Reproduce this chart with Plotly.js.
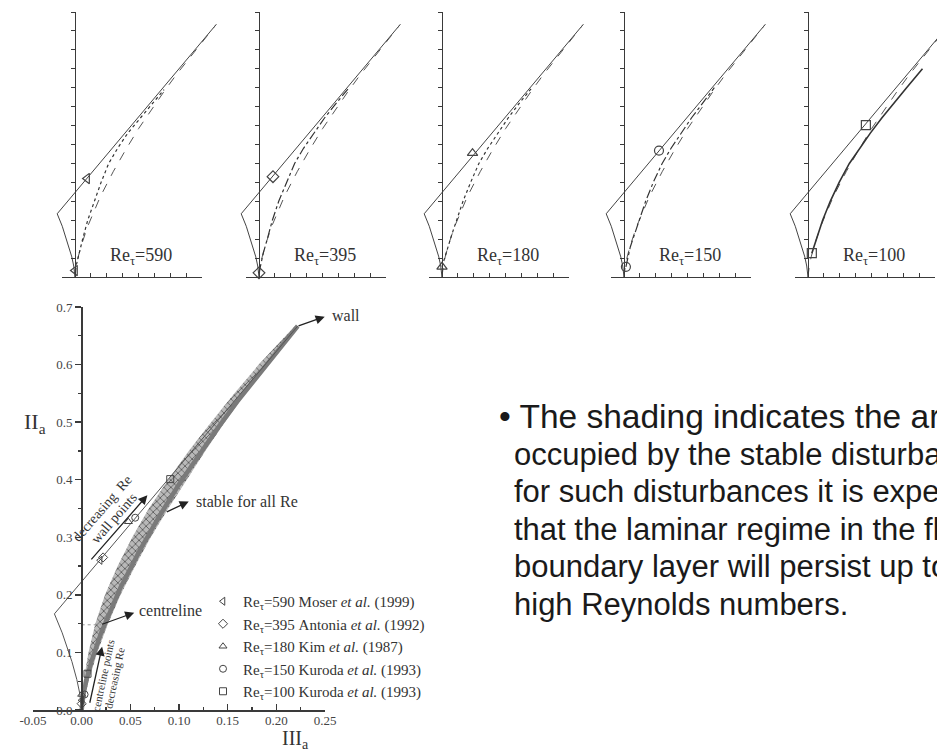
<!DOCTYPE html>
<html><head><meta charset="utf-8">
<script src="https://cdn.plot.ly/plotly-3.0.1.min.js"></script>
<style>html,body{margin:0;padding:0;background:#fff;overflow:hidden;} #chart{width:937px;height:754px;}</style>
</head><body><div id="chart"></div>
<script>
// ---------------- data (IIIa, IIa) ----------------
const reLabels  = ['590', '395', '180', '150', '100'];
const reSources = ['Moser <i>et al.</i> (1999)', 'Antonia <i>et al.</i> (1992)', 'Kim <i>et al.</i> (1987)',
                   'Kuroda <i>et al.</i> (1993)', 'Kuroda <i>et al.</i> (1993)'];
const reSymbols = ['triangle-left-open', 'diamond-open', 'triangle-up-open', 'circle-open', 'square-open'];
const reDash    = ['dot', 'dashdot', 'dot', 'dashdot', 'solid'];

// wall points (on the two-component line) and centreline points
const wallPointX   = [0.019, 0.022, 0.048, 0.055, 0.091];
const wallPointY   = [0.260, 0.265, 0.327, 0.334, 0.401];
const centrePointX = [0.000, 0.000, 0.000, 0.003, 0.006];
const centrePointY = [0.017, 0.011, 0.027, 0.027, 0.063];

// two-component line + left (axisymmetric contraction) boundary
const boundaryLeftX = [0.222, 0.000, -0.028, -0.020, -0.010, -0.005, -0.002, 0.000];
const boundaryLeftY = [0.667, 0.222, 0.167, 0.134, 0.084, 0.053, 0.029, 0.000];
// right (axisymmetric expansion) boundary
const boundaryRightX = [0.000, 0.002, 0.005, 0.010, 0.020, 0.040, 0.060, 0.080, 0.100, 0.120, 0.140, 0.160, 0.180, 0.200, 0.222];
const boundaryRightY = [0.000, 0.029, 0.053, 0.084, 0.134, 0.213, 0.278, 0.337, 0.392, 0.442, 0.490, 0.536, 0.579, 0.621, 0.667];

// DNS trajectories (centreline -> near wall)
const dnsX590 = [0.000, 0.003, 0.007, 0.012, 0.020, 0.030, 0.041, 0.053, 0.067, 0.083, 0.100, 0.120, 0.140];
const dnsY590 = [0.017, 0.040, 0.070, 0.100, 0.150, 0.200, 0.250, 0.300, 0.340, 0.380, 0.415, 0.455, 0.495];
const dnsX395 = [0.000, 0.003, 0.007, 0.013, 0.021, 0.031, 0.043, 0.056, 0.070, 0.086, 0.103, 0.122, 0.140];
const dnsY395 = [0.011, 0.035, 0.065, 0.100, 0.150, 0.200, 0.250, 0.300, 0.340, 0.380, 0.420, 0.460, 0.497];
const dnsX180 = [0.000, 0.004, 0.009, 0.015, 0.023, 0.033, 0.045, 0.058, 0.072, 0.088, 0.104, 0.122, 0.140];
const dnsY180 = [0.027, 0.050, 0.080, 0.110, 0.150, 0.200, 0.250, 0.300, 0.340, 0.380, 0.420, 0.460, 0.497];
const dnsX150 = [0.003, 0.006, 0.010, 0.016, 0.024, 0.034, 0.046, 0.060, 0.074, 0.090, 0.106, 0.124, 0.142];
const dnsY150 = [0.027, 0.050, 0.080, 0.110, 0.150, 0.200, 0.250, 0.300, 0.340, 0.380, 0.420, 0.460, 0.500];
const dnsX100 = [0.006, 0.010, 0.016, 0.023, 0.035, 0.049, 0.065, 0.081, 0.098, 0.116, 0.135, 0.155, 0.180];
const dnsY100 = [0.063, 0.085, 0.115, 0.150, 0.200, 0.250, 0.300, 0.340, 0.380, 0.420, 0.460, 0.500, 0.550];
const dnsX = [dnsX590, dnsX395, dnsX180, dnsX150, dnsX100];
const dnsY = [dnsY590, dnsY395, dnsY180, dnsY150, dnsY100];

// shaded band of stable disturbances (main plot)
const bandY      = [0.020, 0.050, 0.100, 0.150, 0.200, 0.250, 0.300, 0.350, 0.400, 0.450, 0.500, 0.550, 0.600, 0.667];
const bandRightX = [0.003, 0.007, 0.016, 0.027, 0.040, 0.055, 0.071, 0.089, 0.108, 0.127, 0.147, 0.168, 0.190, 0.222];
const bandLeftX  = [0.000, 0.002, 0.007, 0.014, 0.024, 0.037, 0.052, 0.069, 0.089, 0.110, 0.133, 0.157, 0.182, 0.219];

// centreline level (dotted)
const centreLevelX = [0.000, 0.020];
const centreLevelY = [0.148, 0.148];

// tick labels
const mainXTicks    = [-0.05, 0, 0.05, 0.10, 0.15, 0.20, 0.25];
const mainXTickText = ['-0.05', '0.00', '0.05', '0.10', '0.15', '0.20', '0.25'];
const mainXMinor    = [-0.025, 0.025, 0.075, 0.125, 0.175, 0.225];
const mainYTicks    = [0, 0.1, 0.2, 0.3, 0.4, 0.5, 0.6, 0.7];
const mainYTickText = ['0.0', '0.1', '0.2', '0.3', '0.4', '0.5', '0.6', '0.7'];
const mainYMinor    = [0.05, 0.15, 0.25, 0.35, 0.45, 0.55, 0.65];

const bulletLines = [
  '\u2022 The shading indicates the area',
  'occupied by the stable disturbances;',
  'for such disturbances it is expected',
  'that the laminar regime in the flat plate',
  'boundary layer will persist up to very',
  'high Reynolds numbers.'
];

// ---------------- geometry / styling ----------------
const W = 937, H = 754;
const px = p => p / W;
const py = p => 1 - p / H;
const serif = '"Liberation Serif", "Times New Roman", serif';
const sans  = '"Liberation Sans", Arial, sans-serif';
const ink = '#3a3a3a';

// main plot pixel mapping (for paper-positioned labels)
const M = {x0: 81, sx: 973, y0: 710, sy: 575};
const mPx = u => M.x0 + u * M.sx;
const mPy = v => M.y0 - v * M.sy;

// top panels
const panelZero = [75, 259, 442, 624, 808];
const pScale = 636, pTop = 12, pBottom = 277;

const traces = [];
// ---- main plot ----
traces.push({type: 'scatter', mode: 'lines', xaxis: 'x', yaxis: 'y',
  x: bandRightX.concat(bandLeftX.slice().reverse()),
  y: bandY.concat(bandY.slice().reverse()),
  fill: 'toself', fillcolor: '#a8a8a8',
  fillpattern: {shape: 'x', fgcolor: '#5e5e5e', bgcolor: '#b9b9b9', size: 5, solidity: 0.32},
  line: {width: 0}, showlegend: false, hoverinfo: 'skip'});
traces.push({type: 'scatter', mode: 'lines', xaxis: 'x', yaxis: 'y', x: boundaryRightX, y: boundaryRightY,
  line: {color: '#7a7a7a', width: 4.5}, showlegend: false, hoverinfo: 'skip'});
traces.push({type: 'scatter', mode: 'lines', xaxis: 'x', yaxis: 'y', x: boundaryLeftX, y: boundaryLeftY,
  line: {color: '#555', width: 1}, showlegend: false, hoverinfo: 'skip'});
traces.push({type: 'scatter', mode: 'lines', xaxis: 'x', yaxis: 'y', x: centreLevelX, y: centreLevelY,
  line: {color: '#9a9a9a', width: 1, dash: 'dot'}, showlegend: false, hoverinfo: 'skip'});
for (let i = 0; i < reLabels.length; i++) {
  traces.push({type: 'scatter', mode: 'markers', xaxis: 'x', yaxis: 'y',
    x: [wallPointX[i], centrePointX[i]], y: [wallPointY[i], centrePointY[i]],
    name: 'Re<sub>\u03c4</sub>=' + reLabels[i] + ' ' + reSources[i],
    marker: {symbol: reSymbols[i], size: 7, color: '#444', line: {width: 1, color: '#444'}},
    cliponaxis: false, showlegend: true, hoverinfo: 'skip'});
}
// ---- top panels ----
for (let i = 0; i < reLabels.length; i++) {
  const xa = 'x' + (i + 2), ya = 'y' + (i + 2), xd = 'x' + (i + 7);
  traces.push({type: 'scatter', mode: 'lines', xaxis: xa, yaxis: ya, x: boundaryLeftX, y: boundaryLeftY,
    line: {color: '#444', width: 1}, showlegend: false, hoverinfo: 'skip'});
  traces.push({type: 'scatter', mode: 'lines', xaxis: xa, yaxis: ya, x: boundaryRightX, y: boundaryRightY,
    line: {color: '#555', width: 1, dash: 'dash'}, showlegend: false, hoverinfo: 'skip'});
  traces.push({type: 'scatter', mode: 'lines', xaxis: xa, yaxis: ya, x: dnsX[i], y: dnsY[i],
    line: {color: '#333', width: i === 4 ? 1.6 : 1.2, dash: reDash[i]}, showlegend: false, hoverinfo: 'skip'});
  // markers live on the visible (shorter) horizontal axis, which has the same scale and zero
  traces.push({type: 'scatter', mode: 'markers', xaxis: xd, yaxis: ya,
    x: [wallPointX[i], centrePointX[i]], y: [wallPointY[i], centrePointY[i]],
    marker: {symbol: reSymbols[i], size: 9, color: '#444', line: {width: 1.2, color: '#444'}},
    cliponaxis: false, showlegend: false, hoverinfo: 'skip'});
}

const layout = {
  width: W, height: H, margin: {l: 0, r: 0, t: 0, b: 0},
  paper_bgcolor: '#ffffff', plot_bgcolor: 'rgba(0,0,0,0)',
  font: {family: serif, color: ink},
  showlegend: true,
  legend: {x: px(203), y: py(585), xanchor: 'left', yanchor: 'top', bgcolor: 'rgba(0,0,0,0)',
    font: {family: serif, size: 15, color: '#333'}, itemwidth: 30, traceorder: 'normal'},
  xaxis: {domain: [px(33), px(325)], range: [-0.05, 0.25], anchor: 'y',
    showline: true, linecolor: ink, linewidth: 1.6, showgrid: false, zeroline: false,
    ticks: 'inside', ticklen: 6, tickwidth: 1.3, tickcolor: ink, ticklabelstandoff: -2,
    tickmode: 'array', tickvals: mainXTicks, ticktext: mainXTickText,
    minor: {tickmode: 'array', tickvals: mainXMinor, ticks: 'inside', ticklen: 3, tickcolor: ink},
    tickfont: {family: serif, size: 13, color: '#444'}},
  yaxis: {domain: [py(710), py(307)], range: [0, 0.7], anchor: 'free', position: px(81),
    showline: true, linecolor: ink, linewidth: 1.6, showgrid: false, zeroline: false,
    ticks: 'outside', ticklen: 6, tickwidth: 1.3, tickcolor: ink,
    tickmode: 'array', tickvals: mainYTicks, ticktext: mainYTickText,
    minor: {tickmode: 'array', tickvals: mainYMinor, ticks: 'outside', ticklen: 3, tickcolor: ink},
    tickfont: {family: serif, size: 13, color: '#444'}},
  annotations: [],
  hovermode: false
};

for (let i = 0; i < 5; i++) {
  const z = panelZero[i];
  const left = z - 0.035 * pScale;
  const right = Math.min(z + 0.235 * pScale, W);
  const xRight = (right - z) / pScale;
  layout['xaxis' + (i + 2)] = {domain: [px(left), px(right)], range: [-0.035, xRight], anchor: 'y' + (i + 2), visible: false};
  layout['yaxis' + (i + 2)] = {domain: [py(pBottom), py(pTop)], range: [0, 0.7], anchor: 'free', position: px(z),
    showline: true, linecolor: ink, linewidth: 1.4, showgrid: false, zeroline: false,
    ticks: 'outside', ticklen: 4, tickcolor: ink, tick0: 0, dtick: 0.05, showticklabels: false};
  layout['xaxis' + (i + 7)] = {domain: [px(z - 0.02 * pScale), px(z + 0.2 * pScale)], range: [-0.02, 0.2],
    anchor: 'y' + (i + 2), showline: true, linecolor: ink, linewidth: 1.4, showgrid: false, zeroline: false,
    ticks: 'inside', ticklen: 4, tickcolor: ink, tick0: 0, dtick: 0.025, showticklabels: false};
  layout.annotations.push({xref: 'x' + (i + 2), yref: 'y' + (i + 2), x: 0.104, y: 0.055,
    text: 'Re<sub>\u03c4</sub>=' + reLabels[i], showarrow: false,
    font: {family: serif, size: 18, color: '#333'}});
}

function arrow(hx, hy, tx, ty) {
  return {xref: 'x', yref: 'y', x: hx, y: hy, axref: 'x', ayref: 'y', ax: tx, ay: ty, text: '',
    showarrow: true, arrowhead: 2, arrowsize: 1.4, arrowwidth: 1.3, arrowcolor: '#222', standoff: 0};
}
function label(x, y, text, size, opts) {
  return Object.assign({xref: 'x', yref: 'y', x: x, y: y, text: text, showarrow: false,
    font: {family: serif, size: size, color: '#333'}}, opts || {});
}
const A = layout.annotations;
// wall
A.push({xref: 'paper', yref: 'paper', x: px(mPx(0.2505)), y: py(mPy(0.684)), axref: 'pixel', ayref: 'pixel',
  ax: mPx(0.222) - mPx(0.2505), ay: mPy(0.667) - mPy(0.684), text: '', showarrow: true,
  arrowhead: 2, arrowsize: 1.4, arrowwidth: 1.3, arrowcolor: '#222', standoff: 0});
A.push({xref: 'paper', yref: 'paper', x: px(mPx(0.256)), y: py(mPy(0.686)), xanchor: 'left', yanchor: 'middle',
  text: 'wall', showarrow: false, font: {family: serif, size: 16, color: '#333'}});
// stable for all Re
A.push(arrow(0.110, 0.362, 0.086, 0.343));
A.push(label(0.115, 0.362, 'stable for all Re', 16, {xanchor: 'left', yanchor: 'middle'}));
// centreline
A.push(arrow(0.054, 0.169, 0.0195, 0.148));
A.push(label(0.057, 0.172, 'centreline', 16, {xanchor: 'left', yanchor: 'middle'}));
// wall points, decreasing Re
A.push(arrow(0.0675, 0.373, 0.0086, 0.259));
A.push(label(0.021, 0.350, 'decreasing  Re', 14, {textangle: -49}));
A.push(label(0.033, 0.333, 'wall points', 14, {textangle: -49}));
// centreline points, decreasing Re
A.push(arrow(0.021, 0.110, 0.008, 0.010));
A.push(label(0.0225, 0.060, 'centreline points', 11, {textangle: -78}));
A.push(label(0.0335, 0.056, 'decreasing Re', 11, {textangle: -78}));
// axis titles
A.push({xref: 'paper', yref: 'paper', x: px(22), y: py(423), text: 'II<sub>a</sub>', showarrow: false,
  font: {family: serif, size: 22, color: '#333'}});
A.push({xref: 'paper', yref: 'paper', x: px(280), y: 0, yanchor: 'bottom', text: 'III<sub>a</sub>', showarrow: false,
  font: {family: serif, size: 20, color: '#333'}});
// bullet text
for (let k = 0; k < bulletLines.length; k++) {
  A.push({xref: 'paper', yref: 'paper', x: px(k === 0 ? 497 : 512), y: py(417 + 37.4 * k), xanchor: 'left', yanchor: 'middle',
    text: bulletLines[k], showarrow: false, font: {family: sans, size: k === 0 ? 33.5 : 31, color: '#1a1a1a'}});
}

Plotly.newPlot('chart', traces, layout, {staticPlot: true, displayModeBar: false});
</script>
</body></html>
